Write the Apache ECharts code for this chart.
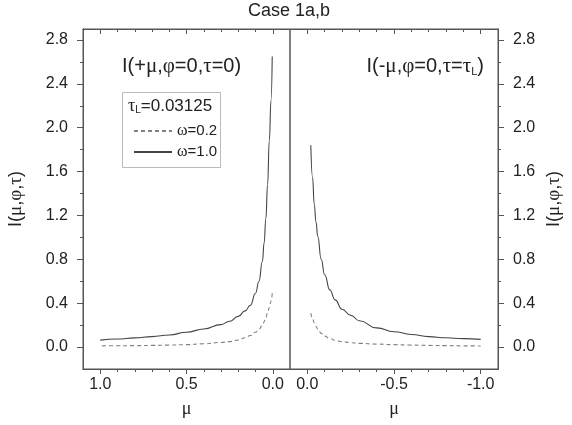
<!DOCTYPE html>
<html>
<head>
<meta charset="utf-8">
<title>Case 1a,b</title>
<script src="https://cdn.jsdelivr.net/npm/echarts@6/dist/echarts.min.js"></script>
</head>
<body style="margin:0">
<div id="main" style="width:572px;height:425px;"></div>
<script>
// left panel: I(+mu, phi=0, tau=0)
var muLeft    = [0.003, 0.01, 0.02, 0.03, 0.04, 0.05, 0.06, 0.08, 0.1, 0.13, 0.16, 0.2, 0.25, 0.3, 0.4, 0.5, 0.6, 0.7, 0.8, 0.9, 1.0];
var iLeftW10  = [2.65, 2.25, 1.88, 1.48, 1.17, 0.95, 0.78, 0.60, 0.49, 0.38, 0.33, 0.28, 0.235, 0.205, 0.165, 0.135, 0.11, 0.095, 0.084, 0.073, 0.063];
var iLeftW02  = [0.49, 0.42, 0.36, 0.31, 0.27, 0.23, 0.20, 0.16, 0.135, 0.105, 0.085, 0.065, 0.05, 0.042, 0.03, 0.022, 0.018, 0.015, 0.013, 0.012, 0.011];

// right panel: I(-mu, phi=0, tau=tauL)
var muRight   = [-0.02, -0.03, -0.04, -0.05, -0.06, -0.08, -0.1, -0.13, -0.16, -0.2, -0.25, -0.3, -0.4, -0.5, -0.6, -0.7, -0.8, -0.9, -1.0];
var iRightW10 = [1.84, 1.55, 1.30, 1.14, 1.01, 0.80, 0.66, 0.52, 0.43, 0.345, 0.29, 0.24, 0.175, 0.14, 0.115, 0.095, 0.085, 0.077, 0.07];
var iRightW02 = [0.31, 0.26, 0.22, 0.19, 0.165, 0.125, 0.10, 0.078, 0.062, 0.05, 0.04, 0.034, 0.027, 0.022, 0.018, 0.015, 0.013, 0.011, 0.01];

// ticks
var xLeftMajor  = [1.0, 0.5, 0.0];
var xLeftMinor  = [0.9, 0.8, 0.7, 0.6, 0.4, 0.3, 0.2, 0.1];
var xRightMajor = [0.0, -0.5, -1.0];
var xRightMinor = [-0.1, -0.2, -0.3, -0.4, -0.6, -0.7, -0.8, -0.9];
var yMajor = [0.0, 0.4, 0.8, 1.2, 1.6, 2.0, 2.4, 2.8];
var yMinor = [0.2, 0.6, 1.0, 1.4, 1.8, 2.2, 2.6];

var axisColor = '#555';
var textColor = '#222';
var sans = 'Liberation Sans';
var serif = 'Liberation Serif';

function pairs(xs, ys) {
    var out = [];
    for (var i = 0; i < xs.length; i++) out.push([xs[i], ys[i]]);
    return out;
}

function xAxisDef(grid, pos, min, max, ticks, len, withLabel) {
    return {
        type: 'value', gridIndex: grid, position: pos, min: min, max: max, inverse: true,
        axisLine: {show: true, onZero: false, lineStyle: {color: axisColor}},
        splitLine: {show: false},
        axisTick: {show: true, inside: pos === 'top', length: len, customValues: ticks, lineStyle: {color: axisColor}},
        axisLabel: withLabel ? {
            show: true, customValues: ticks, margin: 8, fontSize: 16, fontFamily: sans, color: textColor,
            formatter: function (v) { return v.toFixed(1); }
        } : {show: false},
        name: withLabel ? 'μ' : '', nameLocation: 'middle', nameGap: 31,
        nameTextStyle: {fontFamily: serif, fontSize: 18, color: textColor}
    };
}

function yAxisDef(grid, pos, ticks, len, withLabel) {
    return {
        type: 'value', gridIndex: grid, position: pos, min: -0.2, max: 2.9,
        axisLine: {show: true, onZero: false, lineStyle: {color: axisColor}},
        splitLine: {show: false},
        axisTick: {show: true, length: len, customValues: ticks, lineStyle: {color: axisColor}},
        axisLabel: withLabel ? {
            show: true, customValues: ticks, margin: 15, fontSize: 16, fontFamily: sans, color: textColor,
            formatter: function (v) { return v.toFixed(1); }
        } : {show: false},
        name: withLabel ? 'I({g|μ},{g|φ},{g|τ})' : '', nameLocation: 'middle',
        nameGap: pos === 'left' ? 57 : 47, nameRotate: 90,
        nameTextStyle: {fontFamily: sans, fontSize: 18, color: textColor,
            rich: {g: {fontFamily: serif, fontSize: 19, color: textColor}}}
    };
}

var chart = echarts.init(document.getElementById('main'));

var solid = {color: '#444', width: 1.1, type: 'solid'};
var dashed = {color: '#808080', width: 1.1, type: [4, 3]};

chart.setOption({
    animation: false,
    backgroundColor: '#fff',
    grid: [
        {left: 83, top: 29, width: 207, height: 340, show: true, borderColor: axisColor, borderWidth: 1},
        {left: 290, top: 29, width: 208, height: 340, show: true, borderColor: axisColor, borderWidth: 1}
    ],
    xAxis: [
        xAxisDef(0, 'bottom', -0.1, 1.1, xLeftMajor, 5, true),
        xAxisDef(0, 'bottom', -0.1, 1.1, xLeftMinor, 3, false),
        xAxisDef(0, 'top', -0.1, 1.1, xLeftMajor, 5, false),
        xAxisDef(0, 'top', -0.1, 1.1, xLeftMinor, 3, false),
        xAxisDef(1, 'bottom', -1.1, 0.1, xRightMajor, 5, true),
        xAxisDef(1, 'bottom', -1.1, 0.1, xRightMinor, 3, false),
        xAxisDef(1, 'top', -1.1, 0.1, xRightMajor, 5, false),
        xAxisDef(1, 'top', -1.1, 0.1, xRightMinor, 3, false)
    ],
    yAxis: [
        yAxisDef(0, 'left', yMajor, 6, true),
        yAxisDef(0, 'left', yMinor, 3, false),
        yAxisDef(1, 'right', yMajor, 6, true),
        yAxisDef(1, 'right', yMinor, 3, false)
    ],
    legend: {
        orient: 'vertical', left: 128, top: 118, itemWidth: 38, itemHeight: 14, itemGap: 5,
        data: ['ω=0.2', 'ω=1.0'],
        itemStyle: {opacity: 0},
        formatter: function (name) { return '{g|ω}' + name.slice(1); },
        textStyle: {fontFamily: sans, fontSize: 15, color: textColor,
            rich: {g: {fontFamily: serif, fontSize: 16, color: textColor}}}
    },
    graphic: [
        {type: 'text', x: 289, y: 2, style: {text: 'Case 1a,b', fontFamily: sans, fontSize: 18, fill: textColor, align: 'center'}},
        {type: 'rect', shape: {x: 122.5, y: 92.5, width: 98, height: 75}, style: {fill: 'none', stroke: '#bbb', lineWidth: 1}},
        {type: 'text', x: 128, y: 97, style: {
            text: '{g|τ}{s|L}=0.03125', fontFamily: sans, fontSize: 17, fill: textColor,
            rich: {g: {fontFamily: serif, fontSize: 18, fill: textColor}, s: {fontSize: 10, fill: textColor, verticalAlign: 'bottom', padding: [8, 0, 0, 0]}}}},
        {type: 'text', x: 122, y: 56, style: {
            text: 'I(+{g|μ},{g|φ}=0,{g|τ}=0)', fontFamily: sans, fontSize: 20, fill: textColor,
            rich: {g: {fontFamily: serif, fontSize: 21, fill: textColor}}}},
        {type: 'text', x: 484, y: 56, style: {
            text: 'I(-{g|μ},{g|φ}=0,{g|τ}={g|τ}{s|L})', fontFamily: sans, fontSize: 20, fill: textColor, align: 'right',
            rich: {g: {fontFamily: serif, fontSize: 21, fill: textColor}, s: {fontSize: 11, fill: textColor, verticalAlign: 'bottom', padding: [9, 0, 0, 0]}}}}
    ],
    series: [
        {name: 'ω=0.2', type: 'line', xAxisIndex: 0, yAxisIndex: 0, data: pairs(muLeft, iLeftW02), symbol: 'none', smooth: 0.5, smoothMonotone: 'x', lineStyle: dashed, itemStyle: {color: '#808080'}},
        {name: 'ω=1.0', type: 'line', xAxisIndex: 0, yAxisIndex: 0, data: pairs(muLeft, iLeftW10), symbol: 'none', smooth: 0.5, smoothMonotone: 'x', lineStyle: solid, itemStyle: {color: '#444'}},
        {name: 'ω=0.2', type: 'line', xAxisIndex: 4, yAxisIndex: 2, data: pairs(muRight, iRightW02), symbol: 'none', smooth: 0.5, smoothMonotone: 'x', lineStyle: dashed, itemStyle: {color: '#808080'}},
        {name: 'ω=1.0', type: 'line', xAxisIndex: 4, yAxisIndex: 2, data: pairs(muRight, iRightW10), symbol: 'none', smooth: 0.5, smoothMonotone: 'x', lineStyle: solid, itemStyle: {color: '#444'}}
    ]
});
</script>
</body>
</html>
